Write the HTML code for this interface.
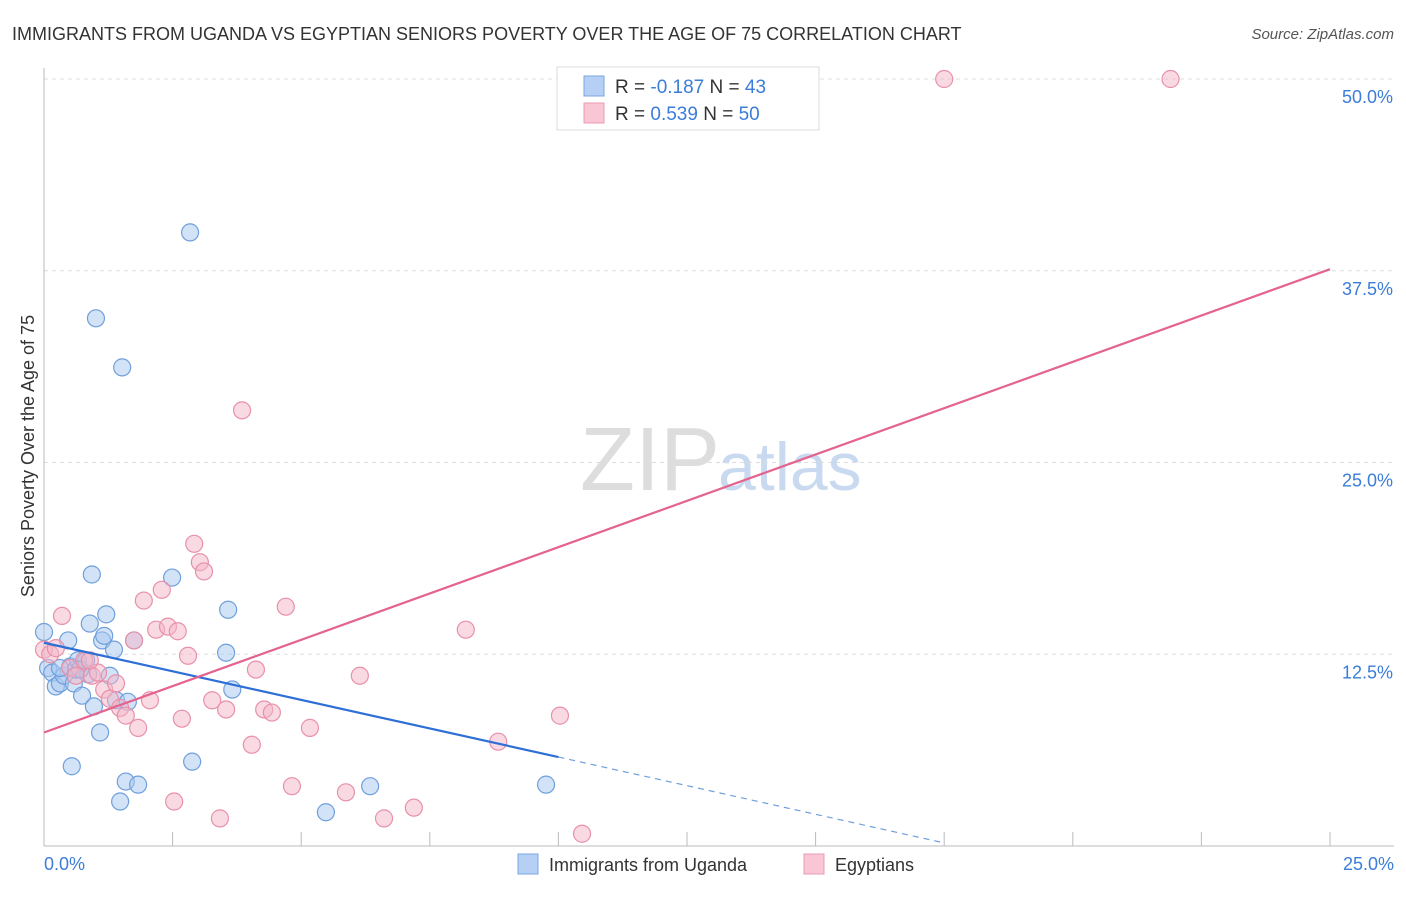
<!DOCTYPE html>
<html><head><meta charset="utf-8"><style>
body{margin:0;background:#fff;font-family:"Liberation Sans",sans-serif;}
svg text{font-family:"Liberation Sans",sans-serif;}
</style></head><body>
<svg width="1406" height="892" xmlns="http://www.w3.org/2000/svg">
<text x="12" y="40" font-size="18" fill="#333">IMMIGRANTS FROM UGANDA VS EGYPTIAN SENIORS POVERTY OVER THE AGE OF 75 CORRELATION CHART</text>
<text x="1394" y="39" font-size="15" fill="#555" text-anchor="end" font-style="italic">Source: ZipAtlas.com</text>
<text x="720" y="490" font-size="90" fill="#ddd" text-anchor="end" font-family="Liberation Serif">ZIP</text>
<text x="718" y="490" font-size="68" fill="#c9daf0">atlas</text>
<g id="grid"></g><g id="axes"></g><g id="marks"></g>
<text transform="translate(34,456) rotate(-90)" font-size="18" fill="#333" text-anchor="middle">Seniors Poverty Over the Age of 75</text>
<text x="44" y="870" font-size="18" fill="#3b7dd8">0.0%</text>
<text x="1394" y="870" font-size="18" fill="#3b7dd8" text-anchor="end">25.0%</text>
<g>
<rect x="557" y="67" width="262" height="63" fill="#fff" stroke="#ddd"/>
<rect x="584" y="76" width="20" height="20" fill="#b5d0f4" stroke="#7aa6e0"/>
<rect x="584" y="103" width="20" height="20" fill="#f8c6d4" stroke="#eb9ab2"/>
<text x="615" y="93" font-size="19" fill="#333">R = <tspan fill="#3b7dd8">-0.187</tspan>   N = <tspan fill="#3b7dd8">43</tspan></text>
<text x="615" y="120" font-size="19" fill="#333">R =  <tspan fill="#3b7dd8">0.539</tspan>   N = <tspan fill="#3b7dd8">50</tspan></text>
</g>
<g>
<rect x="518" y="854" width="20" height="20" fill="#b5d0f4" stroke="#7aa6e0"/>
<text x="549" y="871" font-size="18" fill="#333">Immigrants from Uganda</text>
<rect x="804" y="854" width="20" height="20" fill="#f8c6d4" stroke="#eb9ab2"/>
<text x="835" y="871" font-size="18" fill="#333">Egyptians</text>
</g>
</svg>
<script>
const yTicks=[12.5,25,37.5,50];
const yTickLabels=["12.5%","25.0%","37.5%","50.0%"];
const xTicks=[0,2.5,5,7.5,10,12.5,15,17.5,20,22.5,25];
const ugandaX=[0,.08,.16,.23,.31,.39,.47,.51,.58,.62,.66,.74,.82,.89,.93,.97,1.01,1.09,1.13,1.17,1.21,1.28,1.36,1.40,1.52,1.48,1.59,1.63,1.75,1.83,.54,2.49,2.84,2.88,3.58,3.54,3.66,5.48,6.34,9.76,.86,.31,.70];
const ugandaY=[13.95,11.6,11.3,10.4,10.6,11.1,13.4,11.7,10.6,11.5,12.1,9.8,12.1,14.5,17.7,9.1,34.4,7.4,13.4,13.7,15.1,11.1,12.8,9.5,31.2,2.9,4.2,9.4,13.4,4.0,5.2,17.5,40.0,5.5,15.4,12.6,10.2,2.2,3.9,4.0,11.2,11.6,11.5];
const egyptX=[0,.12,.23,.35,.51,.62,.78,.93,1.05,1.17,1.28,1.40,1.48,1.59,1.75,1.83,1.94,2.06,2.18,2.29,2.41,2.60,2.68,2.53,2.80,2.92,3.03,3.11,3.27,3.42,3.54,3.85,4.04,4.12,4.28,4.43,4.70,4.82,5.17,5.87,6.14,6.61,7.19,8.20,8.83,10.03,10.46,17.5,21.9,.89];
const egyptY=[12.8,12.5,12.9,15.0,11.6,11.1,12.1,11.1,11.3,10.2,9.6,10.6,9.0,8.5,13.4,7.7,16.0,9.5,14.1,16.7,14.3,14.0,8.3,2.9,12.4,19.7,18.5,17.9,9.5,1.8,8.9,28.4,6.6,11.5,8.9,8.7,15.6,3.9,7.7,3.5,11.1,1.8,2.5,14.1,6.8,8.5,0.8,50.0,50.0,12.1];
const ugandaTrend=[[0,13.25],[10,5.8],[17.5,0.2]];
const egyptTrend=[[0,7.4],[25,37.6]];
const NS="http://www.w3.org/2000/svg";
const X=v=>44+v/25*1286, Y=v=>846-v/50*767;
function mk(t,a,p){const e=document.createElementNS(NS,t);for(const k in a)e.setAttribute(k,a[k]);p.appendChild(e);return e;}
const grid=document.getElementById('grid'),axes=document.getElementById('axes'),marks=document.getElementById('marks');
yTicks.forEach((t,i)=>{
 const l=mk('line',{x1:44,x2:1394,y1:Y(t),y2:Y(t),stroke:'#ddd','stroke-dasharray':'4,4'},grid);
 
 
 const tx=mk('text',{x:1393,y:Y(t)+24,'font-size':18,fill:'#3b7dd8','text-anchor':'end'},axes);
 tx.textContent=yTickLabels[i];
 
 
});
const ax=mk('line',{x1:44,x2:44,y1:68,y2:846,stroke:'#bbb'},axes);


const bx=mk('line',{x1:44,x2:1394,y1:846,y2:846,stroke:'#bbb'},axes);


xTicks.forEach(t=>{const l=mk('line',{x1:X(t),x2:X(t),y1:832,y2:846,stroke:'#bbb'},axes);
 
 });
function pts(xs,ys,fill,stroke,name){xs.forEach((x,i)=>{const c=mk('circle',{cx:X(x),cy:Y(ys[i]),r:8.5,fill:fill,'fill-opacity':0.5,stroke:stroke,'stroke-width':1.2},marks);
 
 });}
pts(ugandaX,ugandaY,'#a8c8f0','#6f9fdc','uganda-point');
pts(egyptX,egyptY,'#f4b6c8','#e890aa','egypt-point');
const u1=mk('line',{x1:X(ugandaTrend[0][0]),y1:Y(ugandaTrend[0][1]),x2:X(ugandaTrend[1][0]),y2:Y(ugandaTrend[1][1]),stroke:'#2d6fd6','stroke-width':2.2},marks);


const u2=mk('line',{x1:X(ugandaTrend[1][0]),y1:Y(ugandaTrend[1][1]),x2:X(ugandaTrend[2][0]),y2:Y(ugandaTrend[2][1]),stroke:'#6f9fdc','stroke-width':1.2,'stroke-dasharray':'6,5'},marks);


const e1=mk('line',{x1:X(egyptTrend[0][0]),y1:Y(egyptTrend[0][1]),x2:X(egyptTrend[1][0]),y2:Y(egyptTrend[1][1]),stroke:'#e4638f','stroke-width':2.2},marks);


</script>
</body></html>
